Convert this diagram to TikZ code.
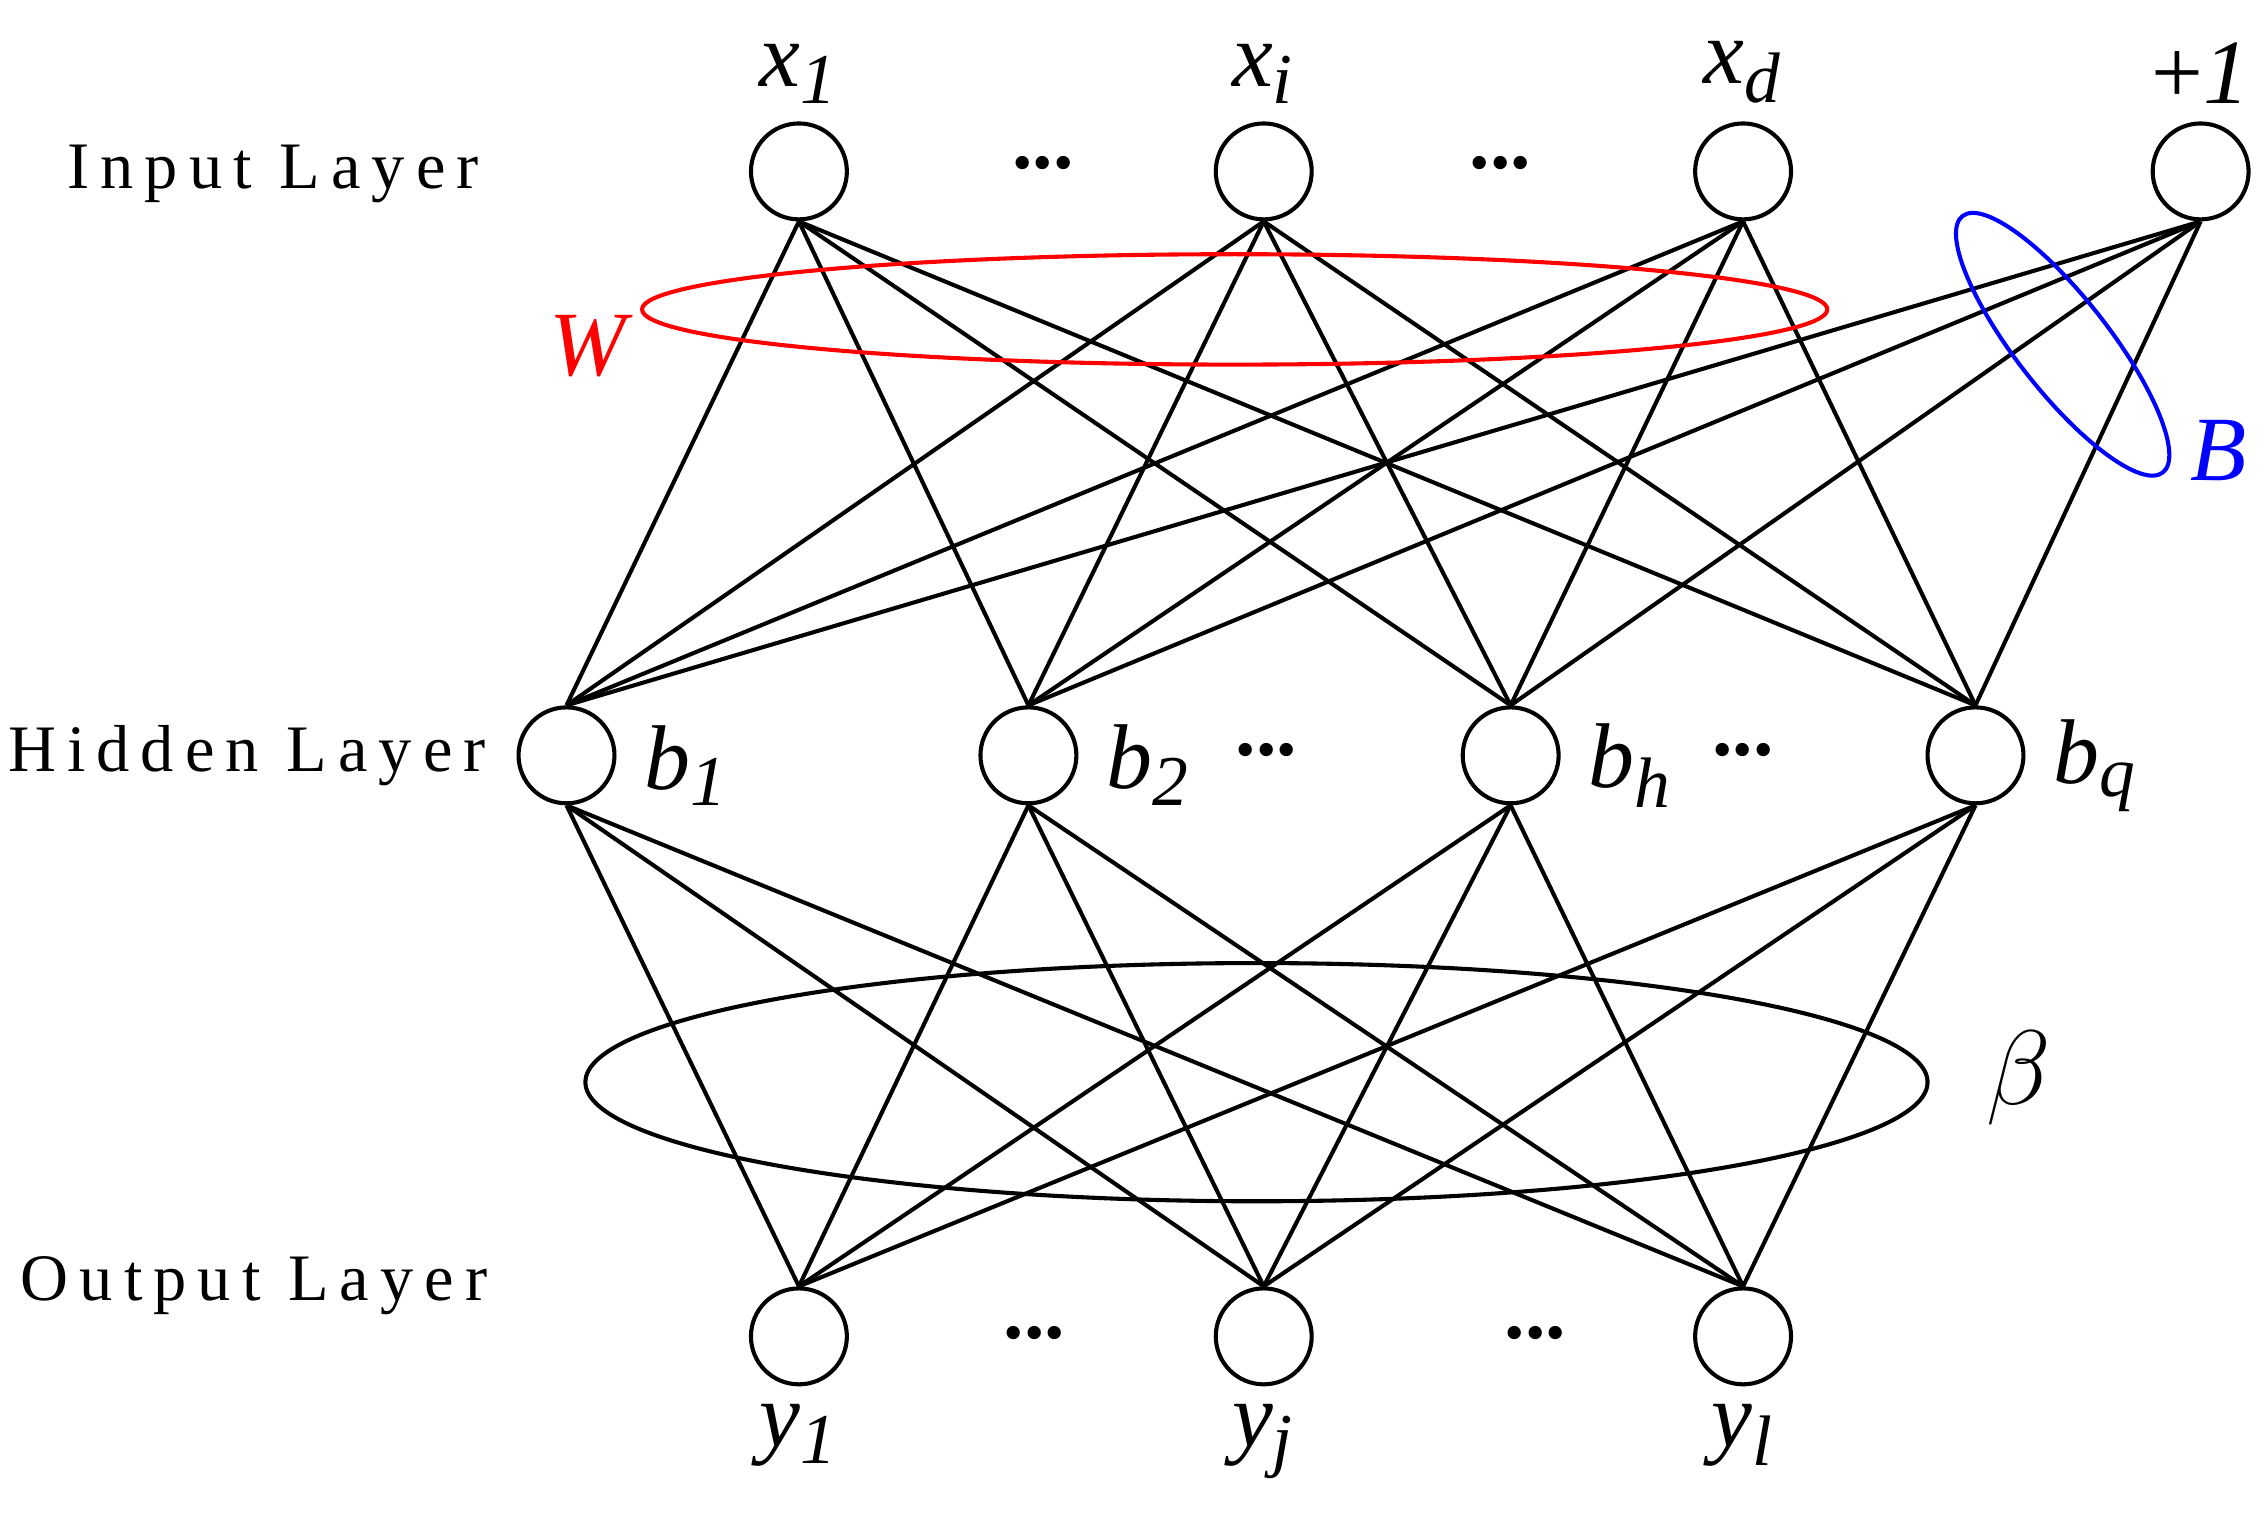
\documentclass[tikz,border=0pt]{standalone}
\usepackage{fontspec}
\setmainfont{Liberation Serif}
\usetikzlibrary{positioning}
\tikzstyle{neuron}=[circle,draw,thick,minimum size=0.66cm,inner sep=0pt]
\tikzstyle{layer}=[font=\fontsize{13}{15}\selectfont]
\tikzstyle{lbl}=[font=\fontsize{18}{20}\selectfont\itshape]
\tikzstyle{link}=[thick]
\newcommand{\sub}[2]{#1\textsubscript{\fontsize{14}{16}\selectfont#2}}
\begin{document}
\begin{tikzpicture}[x=0.01cm,y=-0.01cm]
	\useasboundingbox (0,0) rectangle (1560,1048);
	%Layer names
	\node[layer] (lin) at (188,120) {I\,n\,p\,u\,t\, L\,a\,y\,e\,r};
	\node[layer] (lhid) at (170,520) {H\,i\,d\,d\,e\,n\, L\,a\,y\,e\,r};
	\node[layer] (lout) at (175,885) {O\,u\,t\,p\,u\,t\, L\,a\,y\,e\,r};
	%Input nodes
	\foreach \pos/\name/\txt in {{(550,118)/i1/\sub{x}{1}}, {(870,118)/i2/\sub{x}{i}}, {(1200,118)/i3/\sub{x}{d}}}
	{
		\node[neuron] (\name) at \pos {};
		\node[lbl,above=0pt of \name] {\txt};
	}
	\node[neuron] (i4) at (1515,118) {};
	\node[font=\fontsize{18}{20}\selectfont,above=0pt of i4] {+\textit{1}};
	%Hidden nodes
	\foreach \pos/\name/\txt in {{(390,520)/h1/\sub{b}{1}}, {(708,520)/h2/\sub{b}{2}}, {(1040,520)/h3/\sub{b}{h}}, {(1360,520)/h4/\sub{b}{q}}}
	{
		\node[neuron] (\name) at \pos {};
		\node[lbl,right=2pt of \name,yshift=-2pt] {\txt};
	}
	%Output nodes
	\foreach \pos/\name/\txt in {{(550,920)/o1/\sub{y}{1}}, {(870,920)/o2/\sub{y}{j}}, {(1200,920)/o3/\sub{y}{l}}}
	{
		\node[neuron] (\name) at \pos {};
		\node[lbl,below=0pt of \name] {\txt};
	}
	%Dots
	\foreach \pos in {(718,112),(1033,112),(872,516),(1200,516),(712,918),(1057,918)}
		\node[font=\fontsize{16}{18}\selectfont\bfseries] at \pos {...};
	%Connections
	\foreach \a in {i1,i2,i3,i4}
		\foreach \b in {h1,h2,h3,h4}
			\draw[link] (\a.south) -- (\b.north);
	\foreach \a in {h1,h2,h3,h4}
		\foreach \b in {o1,o2,o3}
			\draw[link] (\a.south) -- (\b.north);
	%Weight groups
	\draw[red,thick] (850,213) ellipse [x radius=408, y radius=38];
	\node[red,lbl] (wlbl) at (405,238) {W};
	\draw[blue,thick,rotate around={-52:(1420,237)}] (1420,237) ellipse [x radius=112, y radius=32];
	\node[blue,lbl] (blbl) at (1527,310) {B};
	\draw[thick] (865,745) ellipse [x radius=462, y radius=82];
	\node[font=\fontsize{22}{24}\selectfont] (beta) at (1390,742) {$\beta$};
\end{tikzpicture}
\end{document}
